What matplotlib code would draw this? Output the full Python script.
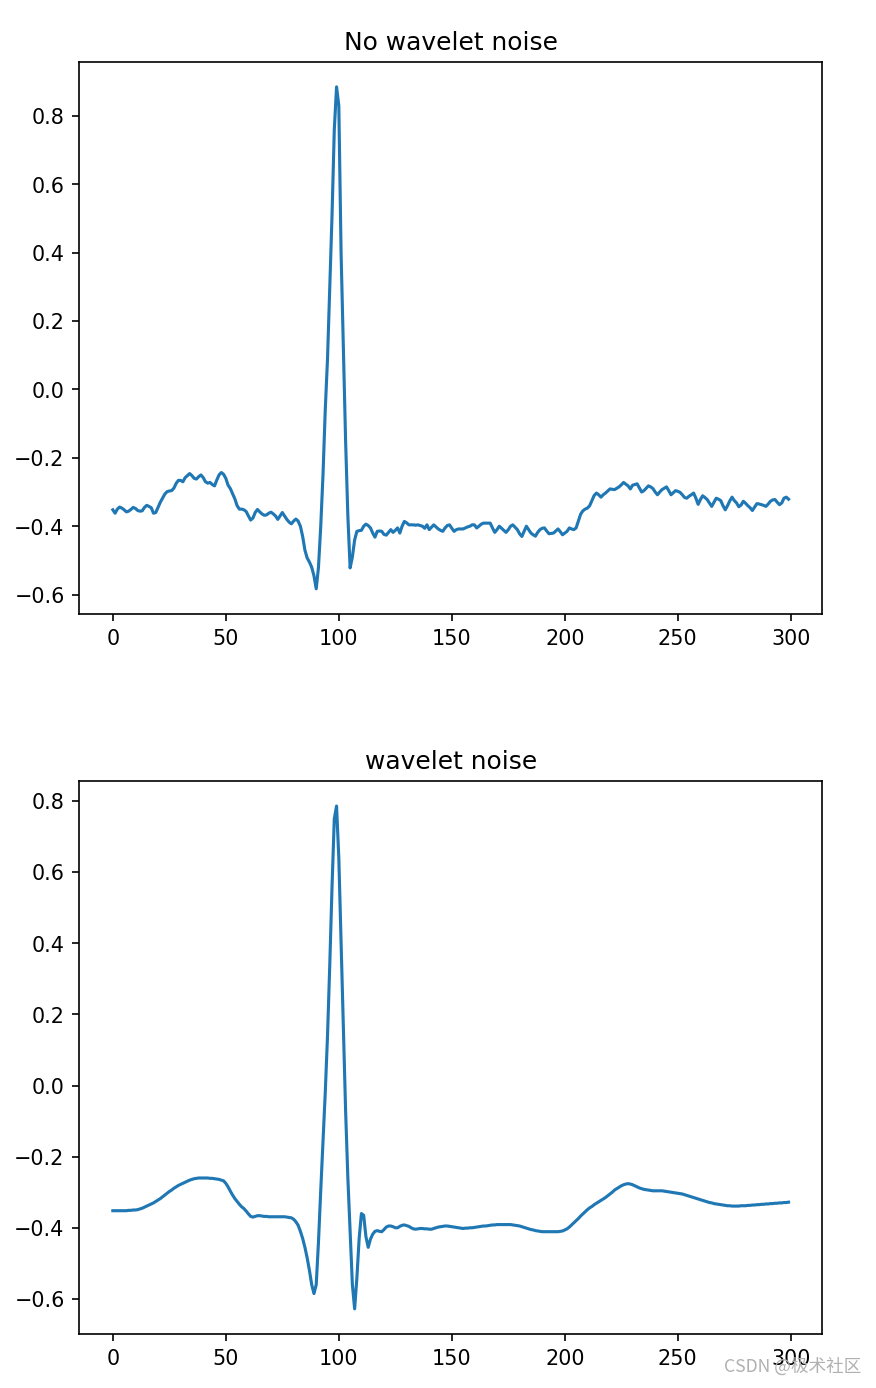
""" Two stacked plots of an ECG beat before and after wavelet denoising """

import matplotlib.pyplot as plt
import numpy as np

titles = ['No wavelet noise', 'wavelet noise']

raw_signal = [
    -0.352, -0.362, -0.350, -0.344, -0.347, -0.352, -0.358, -0.356, -0.351, -0.345,
    -0.348, -0.354, -0.356, -0.355, -0.345, -0.339, -0.342, -0.346, -0.362, -0.360,
    -0.345, -0.330, -0.318, -0.306, -0.299, -0.297, -0.296, -0.289, -0.275, -0.266,
    -0.266, -0.270, -0.258, -0.252, -0.246, -0.252, -0.260, -0.262, -0.255, -0.250,
    -0.258, -0.270, -0.274, -0.272, -0.278, -0.282, -0.265, -0.250, -0.243, -0.248,
    -0.260, -0.280, -0.290, -0.305, -0.320, -0.340, -0.350, -0.350, -0.352, -0.357,
    -0.370, -0.382, -0.376, -0.360, -0.351, -0.358, -0.364, -0.368, -0.367, -0.362,
    -0.359, -0.364, -0.370, -0.380, -0.370, -0.360, -0.370, -0.380, -0.388, -0.393,
    -0.385, -0.379, -0.385, -0.400, -0.430, -0.470, -0.493, -0.505, -0.520, -0.545,
    -0.583, -0.520, -0.400, -0.250, -0.060, 0.090, 0.300, 0.510, 0.760, 0.885,
    0.830, 0.400, 0.130, -0.150, -0.370, -0.522, -0.490, -0.440, -0.415, -0.413,
    -0.412, -0.400, -0.394, -0.398, -0.405, -0.420, -0.432, -0.415, -0.414, -0.415,
    -0.424, -0.426, -0.418, -0.410, -0.418, -0.412, -0.405, -0.420, -0.400, -0.386,
    -0.390, -0.396, -0.396, -0.396, -0.397, -0.396, -0.398, -0.400, -0.406, -0.396,
    -0.410, -0.403, -0.396, -0.402, -0.408, -0.412, -0.415, -0.405, -0.398, -0.396,
    -0.406, -0.415, -0.410, -0.408, -0.408, -0.408, -0.405, -0.402, -0.400, -0.396,
    -0.396, -0.405, -0.400, -0.394, -0.391, -0.391, -0.391, -0.391, -0.405, -0.418,
    -0.410, -0.400, -0.406, -0.412, -0.418, -0.410, -0.400, -0.396, -0.403, -0.410,
    -0.422, -0.430, -0.415, -0.400, -0.410, -0.420, -0.425, -0.429, -0.418, -0.410,
    -0.406, -0.405, -0.414, -0.422, -0.421, -0.420, -0.414, -0.408, -0.416, -0.425,
    -0.420, -0.415, -0.405, -0.408, -0.410, -0.405, -0.385, -0.365, -0.355, -0.350,
    -0.347, -0.340, -0.325, -0.310, -0.303, -0.308, -0.315, -0.308, -0.303, -0.297,
    -0.291, -0.292, -0.293, -0.289, -0.285, -0.279, -0.272, -0.277, -0.282, -0.291,
    -0.280, -0.278, -0.276, -0.288, -0.300, -0.296, -0.289, -0.282, -0.285, -0.290,
    -0.300, -0.308, -0.300, -0.293, -0.289, -0.285, -0.296, -0.308, -0.302, -0.296,
    -0.298, -0.301, -0.308, -0.316, -0.318, -0.312, -0.308, -0.303, -0.318, -0.336,
    -0.322, -0.311, -0.316, -0.322, -0.332, -0.342, -0.330, -0.318, -0.321, -0.325,
    -0.340, -0.352, -0.340, -0.326, -0.315, -0.325, -0.332, -0.343, -0.338, -0.327,
    -0.333, -0.340, -0.346, -0.354, -0.344, -0.334, -0.335, -0.337, -0.339, -0.342,
    -0.335, -0.327, -0.323, -0.322, -0.330, -0.337, -0.332, -0.318, -0.315, -0.321,
]

denoised_signal = [
    -0.352, -0.352, -0.352, -0.352, -0.352, -0.352, -0.352, -0.351, -0.351, -0.350,
    -0.350, -0.349, -0.347, -0.345, -0.342, -0.339, -0.336, -0.333, -0.330, -0.326,
    -0.322, -0.318, -0.313, -0.308, -0.303, -0.298, -0.294, -0.289, -0.285, -0.281,
    -0.278, -0.275, -0.272, -0.269, -0.266, -0.264, -0.262, -0.261, -0.260, -0.260,
    -0.260, -0.260, -0.260, -0.261, -0.261, -0.262, -0.263, -0.264, -0.266, -0.268,
    -0.275, -0.285, -0.297, -0.308, -0.318, -0.326, -0.334, -0.341, -0.346, -0.353,
    -0.361, -0.368, -0.370, -0.368, -0.366, -0.366, -0.367, -0.368, -0.368, -0.369,
    -0.369, -0.369, -0.369, -0.369, -0.369, -0.369, -0.369, -0.370, -0.371, -0.372,
    -0.376, -0.383, -0.393, -0.410, -0.430, -0.455, -0.485, -0.520, -0.560, -0.585,
    -0.560, -0.440, -0.295, -0.160, -0.020, 0.140, 0.340, 0.560, 0.750, 0.786,
    0.640, 0.400, 0.160, -0.070, -0.260, -0.410, -0.560, -0.628, -0.540, -0.430,
    -0.360, -0.365, -0.425, -0.455, -0.432, -0.418, -0.410, -0.408, -0.410, -0.411,
    -0.405, -0.398, -0.395, -0.395, -0.397, -0.400, -0.400, -0.396, -0.393, -0.392,
    -0.394, -0.396, -0.400, -0.403, -0.404, -0.403, -0.402, -0.402, -0.403, -0.403,
    -0.404, -0.404, -0.402, -0.400, -0.398, -0.397, -0.396, -0.395, -0.395, -0.396,
    -0.397, -0.398, -0.399, -0.400, -0.401, -0.402, -0.401, -0.401, -0.400, -0.400,
    -0.399, -0.398, -0.397, -0.396, -0.395, -0.395, -0.394, -0.393, -0.392, -0.392,
    -0.391, -0.391, -0.391, -0.391, -0.391, -0.391, -0.391, -0.392, -0.393, -0.394,
    -0.395, -0.397, -0.399, -0.401, -0.403, -0.405, -0.406, -0.408, -0.409, -0.410,
    -0.411, -0.411, -0.411, -0.411, -0.411, -0.411, -0.411, -0.411, -0.410, -0.409,
    -0.406, -0.403, -0.398, -0.392, -0.386, -0.380, -0.374, -0.367, -0.361, -0.355,
    -0.349, -0.344, -0.340, -0.335, -0.331, -0.327, -0.323, -0.319, -0.315, -0.310,
    -0.305, -0.300, -0.294, -0.290, -0.286, -0.282, -0.279, -0.277, -0.276, -0.277,
    -0.279, -0.282, -0.285, -0.288, -0.290, -0.292, -0.293, -0.294, -0.295, -0.296,
    -0.296, -0.296, -0.296, -0.296, -0.297, -0.298, -0.299, -0.300, -0.301, -0.302,
    -0.303, -0.304, -0.305, -0.307, -0.309, -0.311, -0.313, -0.315, -0.317, -0.319,
    -0.321, -0.323, -0.325, -0.327, -0.329, -0.330, -0.332, -0.333, -0.334, -0.335,
    -0.336, -0.337, -0.338, -0.338, -0.339, -0.339, -0.339, -0.339, -0.338, -0.338,
    -0.338, -0.337, -0.337, -0.336, -0.336, -0.335, -0.335, -0.334, -0.334, -0.333,
    -0.333, -0.332, -0.332, -0.331, -0.331, -0.330, -0.330, -0.329, -0.329, -0.328,
]

watermark = 'CSDN @极术社区'

dpi = 149
fig = plt.figure(figsize=(876.3 / dpi, 1388.3 / dpi), dpi=dpi)
# axes boxes placed to match the screenshot layout
ax_top = fig.add_axes([0.0902, 0.5576, 0.8482, 0.3977])
ax_bottom = fig.add_axes([0.0902, 0.0389, 0.8482, 0.3984])

for ax, signal, title in zip([ax_top, ax_bottom],
                             [raw_signal, denoised_signal], titles):
    ax.plot(np.arange(len(signal)), signal)
    ax.set_title(title)
    ax.set_xticks([0, 50, 100, 150, 200, 250, 300])

fig.text(0.983, 0.009, watermark, ha='right', va='bottom', color='#b0b0b0',
         fontsize=8.5, family=['Noto Sans CJK SC', 'DejaVu Sans'])

plt.savefig('out.png', dpi=dpi)
